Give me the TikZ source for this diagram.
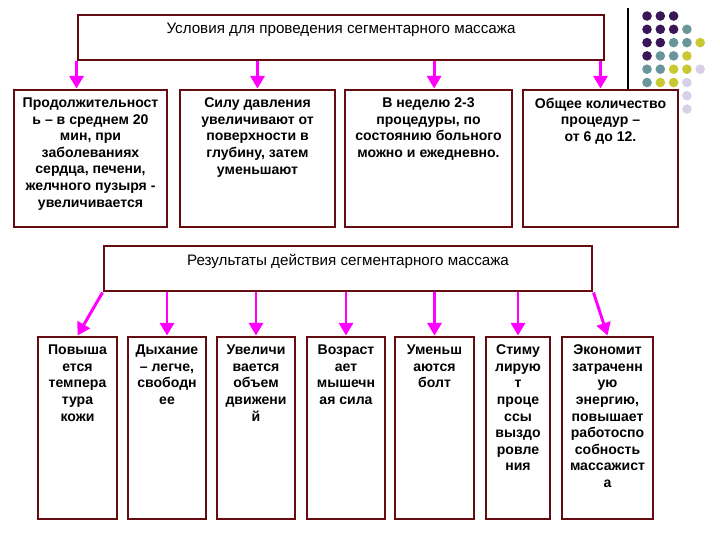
\documentclass[tikz,border=0pt]{standalone}
\usepackage{fontspec}
\setmainfont{Liberation Sans}
\usetikzlibrary{arrows.meta}
\definecolor{boxred}{RGB}{100,12,18}
\definecolor{arrowpink}{RGB}{255,0,255}
\definecolor{dotpurple}{RGB}{58,22,88}
\definecolor{dotteal}{RGB}{105,150,155}
\definecolor{dotyellow}{RGB}{200,200,50}
\definecolor{dotlilac}{RGB}{215,208,230}

\begin{document}
\begin{tikzpicture}[x=0.025cm, y=-0.025cm,
                    >={Triangle[length=9pt, width=10pt]},
                    block/.style={draw=boxred, line width=2.1pt, rectangle, inner sep=0pt},
                    sz/.style 2 args={minimum width=#1*0.025cm, minimum height=#2*0.025cm},
                    txt/.style={anchor=north, yshift=-6.5pt, align=center, inner sep=0pt,
                                font=\bfseries\fontsize{10}{11.8}\selectfont},
                    head/.style={txt, font=\fontsize{10.8}{12}\selectfont},
                    ra/.style={->, draw=arrowpink, fill=arrowpink, line width=2.1pt}]

\useasboundingbox (0,0) rectangle (720,540);

\node [block, sz={526}{45}, label={[head]north:Условия для проведения сегментарного массажа}] (cond) at (341,37.5) {};

\node [block, sz={153}{137}, label={[txt]north:Продолжительност\\ь – в среднем 20\\мин, при\\заболеваниях\\сердца, печени,\\желчного пузыря -\\увеличивается}] (c1) at (90.5,158.5) {};
\node [block, sz={155}{137}, label={[txt]north:Силу давления\\увеличивают от\\поверхности в\\глубину, затем\\уменьшают}] (c2) at (257.5,158.5) {};
\node [block, sz={167}{137}, label={[txt]north:В неделю 2-3\\процедуры, по\\состоянию больного\\можно и ежедневно.}] (c3) at (428.5,158.5) {};
\node [block, sz={155}{137}, label={[txt]north:Общее количество\\процедур –\\от 6 до 12.}] (c4) at (600.5,158.5) {};

\node [block, sz={488}{45}, label={[head]north:Результаты действия сегментарного массажа}] (res) at (348,268.5) {};

\node [block, sz={79}{182}, label={[txt]north:Повыша\\ется\\темпера\\тура\\кожи}] (b1) at (77.5,428) {};
\node [block, sz={78}{182}, label={[txt]north:Дыхание\\– легче,\\свободн\\ее}] (b2) at (167,428) {};
\node [block, sz={78}{182}, label={[txt]north:Увеличи\\вается\\объем\\движени\\й}] (b3) at (256,428) {};
\node [block, sz={78}{182}, label={[txt]north:Возраст\\ает\\мышечн\\ая сила}] (b4) at (346,428) {};
\node [block, sz={79}{182}, label={[txt]north:Уменьш\\аются\\болт}] (b5) at (434.5,428) {};
\node [block, sz={64}{182}, label={[txt]north:Стиму\\лирую\\т\\проце\\ссы\\выздо\\ровле\\ния}] (b6) at (518,428) {};
\node [block, sz={91}{182}, label={[txt]north:Экономит\\затраченн\\ую\\энергию,\\повышает\\работоспо\\собность\\массажист\\а}] (b7) at (607.5,428) {};

\draw [ra] (cond.south west) -- (cond.south west |- c1.north);
\draw [ra] (c2.north |- cond.south) -- (c2.north);
\draw [ra] ([xshift=4pt]c3.north |- cond.south) -- ([xshift=4pt]c3.north);
\draw [ra] (c4.north |- cond.south) -- (c4.north);

\draw [ra] (res.south west) -- (b1.north);
\foreach \b in {b2,b3,b4,b5,b6}
  \draw [ra] (\b.north |- res.south) -- (\b.north);
\draw [ra] (res.south east) -- (b7.north);

\coordinate (linetop) at (628,8);
\draw [line width=0.8pt] (linetop) -- (linetop |- c4.north);
\foreach \cx/\cy/\col in {1/1/dotpurple, 2/1/dotpurple, 3/1/dotpurple,
                          1/2/dotpurple, 2/2/dotpurple, 3/2/dotpurple, 4/2/dotteal,
                          1/3/dotpurple, 2/3/dotpurple, 3/3/dotteal, 4/3/dotteal, 5/3/dotyellow,
                          1/4/dotpurple, 2/4/dotteal, 3/4/dotteal, 4/4/dotyellow,
                          1/5/dotteal, 2/5/dotteal, 3/5/dotyellow, 4/5/dotyellow, 5/5/dotlilac,
                          1/6/dotteal, 2/6/dotyellow, 3/6/dotyellow, 4/6/dotlilac,
                          4/7/dotlilac, 4/8/dotlilac}
  \fill [\col] (633.7+13.3*\cx, 2.7+13.3*\cy) circle (4.8);

\end{tikzpicture}
\end{document}
